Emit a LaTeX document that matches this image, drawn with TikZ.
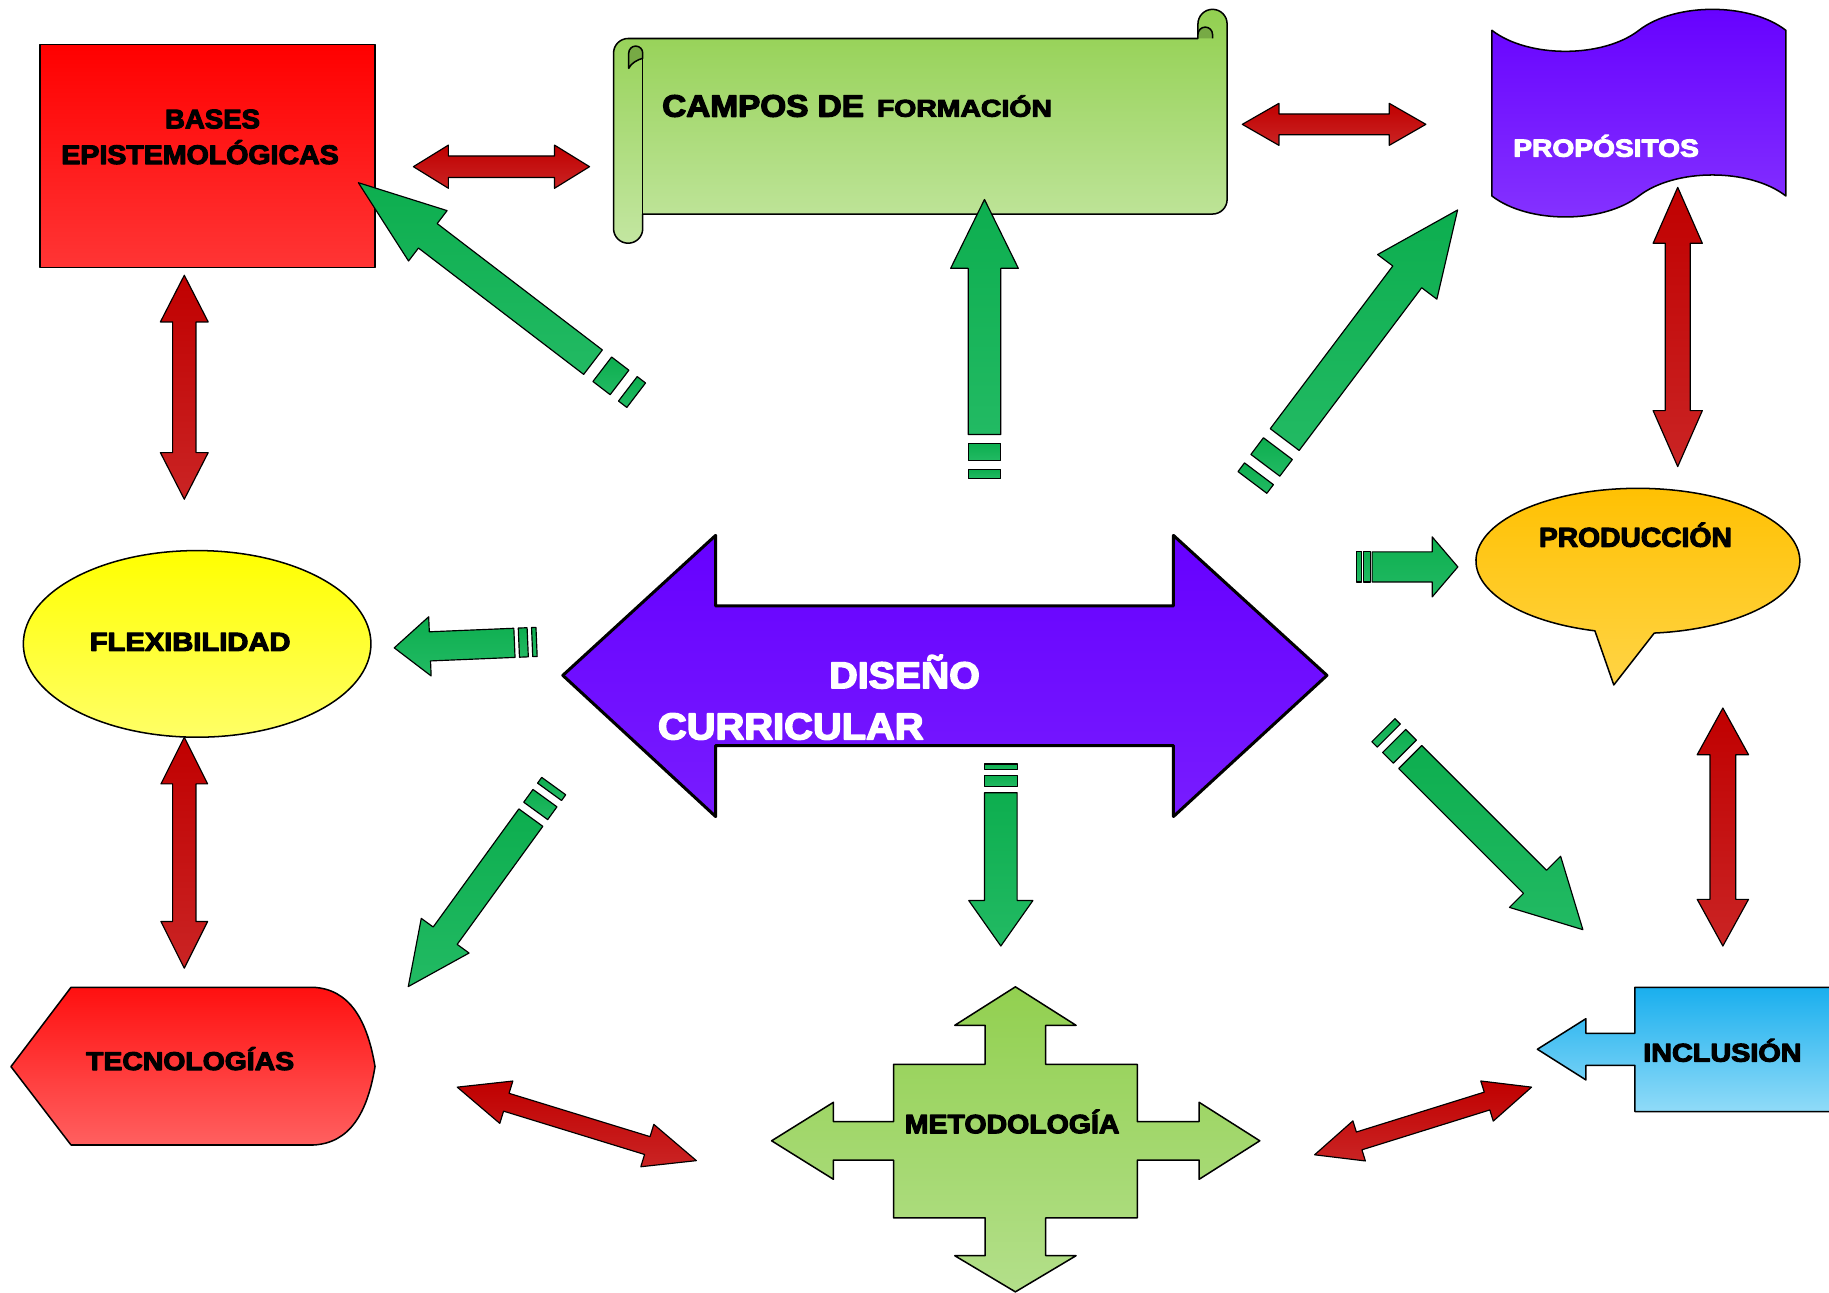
\documentclass[tikz,border=0pt]{standalone}
\usepackage{fontspec}
\setmainfont{Liberation Sans}[BoldFeatures={FakeBold=4}]
\usepackage{graphicx}
\usetikzlibrary{calc}

\definecolor{rA}{HTML}{FF0000}\definecolor{rB}{HTML}{FF3535}
\definecolor{gA}{HTML}{92D050}\definecolor{gB}{HTML}{C3E6A1}
\definecolor{pA}{HTML}{6600FF}\definecolor{pB}{HTML}{8533FF}
\definecolor{yA}{HTML}{FFFF00}\definecolor{yB}{HTML}{FFFF66}
\definecolor{oA}{HTML}{FFC000}\definecolor{oB}{HTML}{FFD445}
\definecolor{dA}{HTML}{6600FF}\definecolor{dB}{HTML}{781CFF}
\definecolor{tA}{HTML}{FF1010}\definecolor{tB}{HTML}{FF6060}
\definecolor{mA}{HTML}{92D050}\definecolor{mB}{HTML}{B3DF8A}
\definecolor{bA}{HTML}{1AAFEE}\definecolor{bB}{HTML}{90DBF8}
\definecolor{arA}{HTML}{C00000}\definecolor{arB}{HTML}{CA2424}
\definecolor{agA}{HTML}{0DAE4F}\definecolor{agB}{HTML}{22BA63}
\definecolor{curl}{HTML}{77AA45}

\newlength\ftw
\newcommand\ftxt[3]{{\fontsize{#2pt}{#2pt}\selectfont\bfseries\settowidth{\ftw}{#3}\pgfmathsetmacro\ftsx{#1/\ftw}\scalebox{\ftsx}[1]{#3}}}

\tikzset{
  shp/.style={draw=black, line width=1.3pt},
  garrow/.style={draw=black, line width=1pt, top color=agA, bottom color=agB},
  rarrow/.style={draw=black, line width=1pt, top color=arA, bottom color=arB},
  lbl/.style={inner sep=0pt, outer sep=0pt, text=black},
}

% striped arrow: tail, tip, shaft half, head half, head len, thin end, wide start, wide end, shaft start
\newcommand\sarrow[9]{%
  \coordinate (st) at (#1); \coordinate (sp) at (#2);
  \coordinate (shb) at ($(sp)!#5pt!(st)$);
  \path[garrow] ($(st)!#3pt!90:(sp)$) -- ($(st)!#3pt!-90:(sp)$)
     -- ($(st)!#6pt!(sp)!#3pt!-90:(sp)$) -- ($(st)!#6pt!(sp)!#3pt!90:(sp)$) -- cycle;
  \path[garrow] ($(st)!#7pt!(sp)!#3pt!90:(sp)$) -- ($(st)!#7pt!(sp)!#3pt!-90:(sp)$)
     -- ($(st)!#8pt!(sp)!#3pt!-90:(sp)$) -- ($(st)!#8pt!(sp)!#3pt!90:(sp)$) -- cycle;
  \path[garrow] ($(st)!#9pt!(sp)!#3pt!90:(sp)$) -- ($(shb)!#3pt!90:(sp)$)
     -- ($(shb)!#4pt!90:(sp)$) -- (sp) -- ($(shb)!#4pt!-90:(sp)$)
     -- ($(shb)!#3pt!-90:(sp)$) -- ($(st)!#9pt!(sp)!#3pt!-90:(sp)$) -- cycle;
}
% double arrow: A, B, shaft half, head half, head len
\newcommand\darrow[5]{%
  \coordinate (da) at (#1); \coordinate (db) at (#2);
  \coordinate (dha) at ($(da)!#5pt!(db)$); \coordinate (dhb) at ($(db)!#5pt!(da)$);
  \path[rarrow] (da) -- ($(dha)!#4pt!90:(db)$) -- ($(dha)!#3pt!90:(db)$)
    -- ($(dhb)!#3pt!-90:(da)$) -- ($(dhb)!#4pt!-90:(da)$) -- (db)
    -- ($(dhb)!#4pt!90:(da)$) -- ($(dhb)!#3pt!90:(da)$)
    -- ($(dha)!#3pt!-90:(db)$) -- ($(dha)!#4pt!-90:(db)$) -- cycle;
}

\begin{document}
\begin{tikzpicture}[x=1pt,y=-1pt,line join=round]
\useasboundingbox (0,0) rectangle (1568,1108);
\clip (0,0) rectangle (1568,1108);

% BASES EPISTEMOLOGICAS
\path[shp, top color=rA, bottom color=rB] (34.5,38) rectangle (321.7,229.5);

% CAMPOS DE FORMACION scroll
\path[shp, top color=gA, bottom color=gB]
  (526,45.5) arc[start angle=180,end angle=270,radius=12.5] -- (1027,33) -- (1027,20.5)
  arc[start angle=180,end angle=360,radius=12.5] -- (1052,171)
  arc[start angle=0,end angle=90,radius=12.5] -- (551,183.5) -- (551,196)
  arc[start angle=0,end angle=180,radius=12.5] -- cycle;
\draw[line width=1.3pt] (551,45.5) -- (551,183.5);
\filldraw[fill=curl, line width=1.3pt] (539,58.6) -- (539,45.5) arc[start angle=180,end angle=360,radius=6]
  -- (551,50) .. controls (547,51) and (541,54) .. (539,58.6) -- cycle;
\filldraw[fill=curl, line width=1.3pt] (1027,33) -- (1027,29.5) arc[start angle=180,end angle=360,radius=6.25] -- (1039.5,33);

% PROPOSITOS wave
\path[shp, top color=pA, bottom color=pB]
  (1279,26) .. controls (1310,50) and (1374,50) .. (1405,26)
  .. controls (1436,2) and (1500,2) .. (1531,26) -- (1531,168)
  .. controls (1500,144) and (1436,144) .. (1405,168)
  .. controls (1374,192) and (1310,192) .. (1279,168) -- cycle;

% FLEXIBILIDAD ellipse
\path[shp, top color=yA, bottom color=yB] (169,552) ellipse[x radius=149, y radius=80];

% PRODUCCION callout
\path[shp, top color=oA, bottom color=oB]
  (1367.3,540.8) arc[start angle=105.4,end angle=444.2,x radius=138.8,y radius=62.2]
  -- (1383.5,587.2) -- cycle;

% DISENO CURRICULAR double arrow
\path[draw=black, line width=2.6pt, top color=dA, bottom color=dB]
  (482.5,579) -- (613.5,459) -- (613.5,519.5) -- (1006,519.5) -- (1006,459)
  -- (1137.6,579) -- (1006,700) -- (1006,639.2) -- (613.5,639.2) -- (613.5,700) -- cycle;

% TECNOLOGIAS
\path[shp, top color=tA, bottom color=tB]
  (9.4,914.4) -- (60.9,846.4) -- (268.6,846.4)
  .. controls (300,848) and (315,875) .. (321.5,914.4)
  .. controls (315,954) and (300,980) .. (268.6,981.6) -- (60.9,981.6) -- cycle;

% METODOLOGIA quad arrow
\path[shp, top color=mA, bottom color=mB]
  (870.5,846) -- (922.5,879) -- (896.5,879) -- (896.5,912.5) -- (975,912.5) -- (975,961.5)
  -- (1028,961.5) -- (1028,945) -- (1080,978) -- (1028,1011) -- (1028,994.5) -- (975,994.5)
  -- (975,1044) -- (896.5,1044) -- (896.5,1076.5) -- (922.5,1076.5) -- (870.5,1107.5)
  -- (818.5,1076.5) -- (844.5,1076.5) -- (844.5,1044) -- (766,1044) -- (766,994.5)
  -- (714.5,994.5) -- (714.5,1011) -- (661.5,978) -- (714.5,945) -- (714.5,961.5)
  -- (766,961.5) -- (766,912.5) -- (844.5,912.5) -- (844.5,879) -- (818.5,879) -- cycle;

% INCLUSION arrow callout
\path[shp, top color=bA, bottom color=bB]
  (1575,846.4) -- (1401.6,846.4) -- (1401.6,885.8) -- (1359.6,885.8) -- (1359.6,873.3)
  -- (1318,899.5) -- (1359.6,925.8) -- (1359.6,913.3) -- (1401.6,913.3) -- (1401.6,953)
  -- (1575,953) -- cycle;

% red double arrows
\darrow{354.4,142.9}{505.4,142.9}{9.2}{18.5}{30}
\darrow{1065,106.6}{1222.4,106.6}{8.9}{18}{31.4}
\darrow{158,236}{158,428}{10}{20.5}{40}
\darrow{158,632}{158,830}{10}{20}{40}
\darrow{1438.3,160.6}{1438.3,400}{10.7}{21.1}{48}
\darrow{1477,607}{1477,811}{11}{22}{40}
\darrow{392,932}{597,995}{8}{19}{44}
\darrow{1127,990}{1313,932}{8}{18}{40}

% green striped arrows
\sarrow{545.4,338.8}{307.2,156.6}{13.2}{27.2}{75}{9}{18}{36.6}{46.6}
\sarrow{844,410}{844,171}{14}{29}{59}{7.5}{15}{30}{37.5}
\sarrow{1073.7,413.6}{1249.6,180}{15.5}{31.8}{71.8}{9.3}{18.4}{36.3}{46}
\sarrow{460,550.3}{338,555.4}{12.5}{25.4}{30.6}{3.8}{7.6}{15.2}{19}
\sarrow{1163,486}{1249.8,486}{12.9}{25.75}{22}{4.4}{5.8}{11.6}{13.3}
\sarrow{858,655}{858,811}{14}{27.5}{39}{5}{9.6}{19.6}{24.6}
\sarrow{474.7,673.9}{350,845.8}{12.7}{25.3}{53.9}{6.07}{12.77}{26.3}{33.4}
\sarrow{1186,626}{1357,797}{14}{31}{58}{6.5}{13}{26}{32.5}

% texts
\node[lbl, anchor=base] (tbases) at (182.2,110) {\ftxt{81.4}{23}{BASES}};
\node[lbl, anchor=base] (tepist) at (171.5,140.6) {\ftxt{237.8}{23}{EPISTEMOLÓGICAS}};
\node[lbl, anchor=base west] (tcampos) at (567.7,100) {\ftxt{173}{26.5}{CAMPOS DE}};
\node[lbl, anchor=base west] (tform) at (751.8,100) {\ftxt{150}{20.7}{FORMACIÓN}};
\node[lbl, anchor=base west, text=white] (tprop) at (1297.4,134.3) {\ftxt{159}{21.1}{PROPÓSITOS}};
\node[lbl, anchor=base] (tprod) at (1402,468.7) {\ftxt{165.4}{23.3}{PRODUCCIÓN}};
\node[lbl, anchor=base, text=white] (tdis) at (775.5,590) {\ftxt{129}{32}{DISEÑO}};
\node[lbl, anchor=base, text=white] (tcurr) at (678,633.8) {\ftxt{227.7}{32}{CURRICULAR}};
\node[lbl, anchor=base] (tflex) at (163,558) {\ftxt{172}{22.5}{FLEXIBILIDAD}};
\node[lbl, anchor=base] (ttec) at (163,917.3) {\ftxt{178.3}{22}{TECNOLOGÍAS}};
\node[lbl, anchor=base] (tmet) at (867.7,971.5) {\ftxt{184}{22.7}{METODOLOGÍA}};
\node[lbl, anchor=base] (tinc) at (1476.6,910.1) {\ftxt{135.7}{22}{INCLUSIÓN}};
\end{tikzpicture}
\end{document}
